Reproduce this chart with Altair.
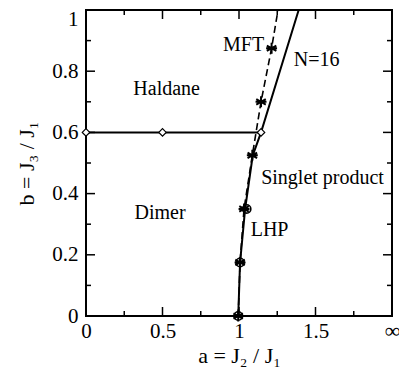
import altair as alt
import pandas as pd

# ---- data ----
boundary_a = [0.0, 0.5, 1.144]
boundary_b = [0.6, 0.6, 0.6]

n16_a = [0.995, 1.007, 1.04, 1.09, 1.144, 1.39]
n16_b = [0.0, 0.175, 0.35, 0.525, 0.6, 1.0]

mft_line_a = [0.995, 1.007, 1.033, 1.087, 1.144, 1.213, 1.255]
mft_line_b = [0.0, 0.175, 0.35, 0.525, 0.70, 0.875, 1.0]
mft_star_a = [0.995, 1.007, 1.033, 1.087, 1.144, 1.213]
mft_star_b = [0.0, 0.175, 0.35, 0.525, 0.70, 0.875]

lhp_a = [0.995, 1.007, 1.05]
lhp_b = [0.0, 0.175, 0.35]

x_major = [0.5, 1.0, 1.5]
x_minor = [0.25, 0.75, 1.25, 1.75]
y_major = [0.2, 0.4, 0.6, 0.8]
y_minor = [0.1, 0.3, 0.5, 0.7, 0.9]
x_tick_labels = [0, 0.5, 1, 1.5, 2]
y_tick_labels = [0, 0.2, 0.4, 0.6, 0.8, 1]

labels = ["MFT", "N=16", "Haldane", "Singlet product", "Dimer", "LHP"]
label_a = [1.03, 1.507, 0.527, 1.546, 0.484, 1.2]
label_b = [0.886, 0.837, 0.741, 0.452, 0.336, 0.281]

W, H = 306, 306
FONT = "Liberation Serif"
STAR = "M0,-1L0,1M-0.87,-0.5L0.87,0.5M-0.87,0.5L0.87,-0.5M-1,0L1,0"

xs = alt.Scale(domain=[0, 2], nice=False, zero=False)
ys = alt.Scale(domain=[0, 1], nice=False, zero=False)

boundary = pd.DataFrame({"a": boundary_a, "b": boundary_b})
n16 = pd.DataFrame({"a": n16_a, "b": n16_b})
mft_line = pd.DataFrame({"a": mft_line_a, "b": mft_line_b})
mft_star = pd.DataFrame({"a": mft_star_a, "b": mft_star_b})
lhp = pd.DataFrame({"a": lhp_a, "b": lhp_b})
txt = pd.DataFrame({"t": labels, "a": label_a, "b": label_b})

xaxis = alt.Axis(
    values=x_tick_labels, format="~g",
    labelExpr="datum.value == 2 ? '∞' : datum.label",
    ticks=False, tickSize=0, domain=False, grid=False,
    labelFont=FONT, labelColor="black", labelPadding=4,
    labelFontSize=alt.condition("datum.value == 2", alt.value(22), alt.value(21)),
    labelFlush=False, labelOverlap=False,
    title="a = J₂ / J₁", titleFont=FONT, titleFontSize=22,
    titleFontWeight="normal", titleColor="black",
    titleY=46, titleBaseline="alphabetic",
)
yaxis = alt.Axis(
    values=y_tick_labels, format="~g",
    ticks=False, tickSize=0, domain=False, grid=False,
    labelFont=FONT, labelFontSize=21, labelColor="black", labelPadding=8,
    labelBaseline=alt.condition("datum.value == 1", alt.value("top"), alt.value("middle")),
    labelOffset=alt.condition("datum.value == 1", alt.value(-2), alt.value(0)),
    labelFlush=False, labelOverlap=False,
    title="b = J₃ / J₁", titleFont=FONT, titleFontSize=22,
    titleFontWeight="normal", titleColor="black",
    titleX=-53, titleBaseline="alphabetic",
)

X = lambda: alt.X("a:Q", scale=xs, axis=xaxis)
Y = lambda: alt.Y("b:Q", scale=ys, axis=yaxis)

base = alt.Chart(boundary).mark_line(color="black", strokeWidth=2).encode(x=X(), y=Y())
n16_line = alt.Chart(n16).mark_line(color="black", strokeWidth=2).encode(x=X(), y=Y())
mft_dash = alt.Chart(mft_line).mark_line(color="black", strokeWidth=1.6, strokeDash=[7, 4]).encode(x=X(), y=Y())
diamonds = alt.Chart(boundary).mark_point(
    shape="diamond", size=55, filled=True, fill="white", stroke="black", strokeWidth=1.2, opacity=1
).encode(x=X(), y=Y())
stars = alt.Chart(mft_star).mark_point(
    shape=STAR, size=120, filled=False, stroke="black", strokeWidth=2, opacity=1
).encode(x=X(), y=Y())
circles = alt.Chart(lhp).mark_point(
    shape="circle", size=70, filled=False, stroke="black", strokeWidth=1.6, opacity=1
).encode(x=X(), y=Y())
texts = alt.Chart(txt).mark_text(font=FONT, fontSize=20, color="black").encode(
    x=X(), y=Y(), text="t:N"
)

def xticks(vals, length):
    d = pd.DataFrame({"a": vals})
    bot = alt.Chart(d).mark_rule(color="black", strokeWidth=1.5).encode(
        x=X(), y=alt.value(H), y2=alt.value(H - length))
    top = alt.Chart(d).mark_rule(color="black", strokeWidth=1.5).encode(
        x=X(), y=alt.value(0), y2=alt.value(length))
    return [bot, top]

def yticks(vals, length):
    d = pd.DataFrame({"b": vals})
    left = alt.Chart(d).mark_rule(color="black", strokeWidth=1.5).encode(
        y=Y(), x=alt.value(0), x2=alt.value(length))
    right = alt.Chart(d).mark_rule(color="black", strokeWidth=1.5).encode(
        y=Y(), x=alt.value(W), x2=alt.value(W - length))
    return [left, right]

ticks = xticks(x_major, 9) + xticks(x_minor, 5) + yticks(y_major, 9) + yticks(y_minor, 5)

chart = alt.layer(
    base, n16_line, mft_dash, *ticks, diamonds, stars, circles, texts
).properties(
    width=W, height=H,
    autosize=alt.AutoSizeParams(type="none"),
    padding={"left": 78, "top": 2, "right": 7, "bottom": 54},
    background="white",
).configure_view(stroke="black", strokeWidth=2)

chart.save("out.html", embed_options={"renderer": "svg", "actions": False})
